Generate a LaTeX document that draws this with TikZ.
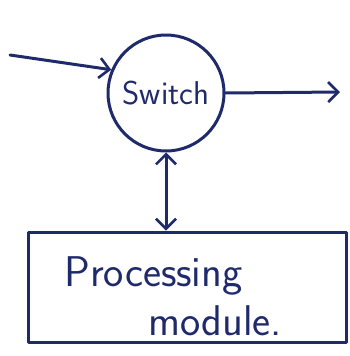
\documentclass[tikz,border=0pt]{standalone}
\usepackage{fontspec}
\usetikzlibrary{arrows.meta,shapes.geometric}
\definecolor{ink}{HTML}{1F2A6B}
\tikzset{
  pen/.style={draw=ink, line width=3pt, line cap=round, line join=round},
  barb/.style={-{Straight Barb[length=10pt,width=20pt,line width=2.6pt]}},
  dbarb/.style={{Straight Barb[length=10pt,width=20pt,line width=2.6pt]}-{Straight Barb[length=10pt,width=20pt,line width=2.6pt]}},
  hand/.style={text=ink},
  bigtext/.style={hand, anchor=base west, inner sep=0pt, font=\sffamily\fontsize{43}{48}\selectfont},
}
\begin{document}
\begin{tikzpicture}[x=1pt,y=1pt]
  \useasboundingbox (0,0) rectangle (350,-356);
  % switch node: the label is boxed at zero width so the circle keeps its set size
  \node[pen, ellipse, minimum width=116pt, minimum height=116pt, inner sep=0pt,
        hand, font=\sffamily\fontsize{33}{38}\selectfont] (switch) at (166,-93) {\makebox[0pt]{Switch}};
  % processing module box
  \node[pen, rectangle, minimum width=318pt, minimum height=110pt, inner sep=0pt] (box) at (187,-287) {};
  \node[bigtext] (l1) at (64,-286) {Processing};
  \node[bigtext] (l2) at (148,-335) {module.};
  % connectors
  \coordinate (src) at (10,-55);
  \coordinate (dst) at (340,-92);
  \draw[pen, barb] (src) -- (switch.157);
  \draw[pen, barb] (switch.east) -- (dst);
  \draw[pen, dbarb] (switch.south) -- (switch.south |- box.north);
\end{tikzpicture}
\end{document}
